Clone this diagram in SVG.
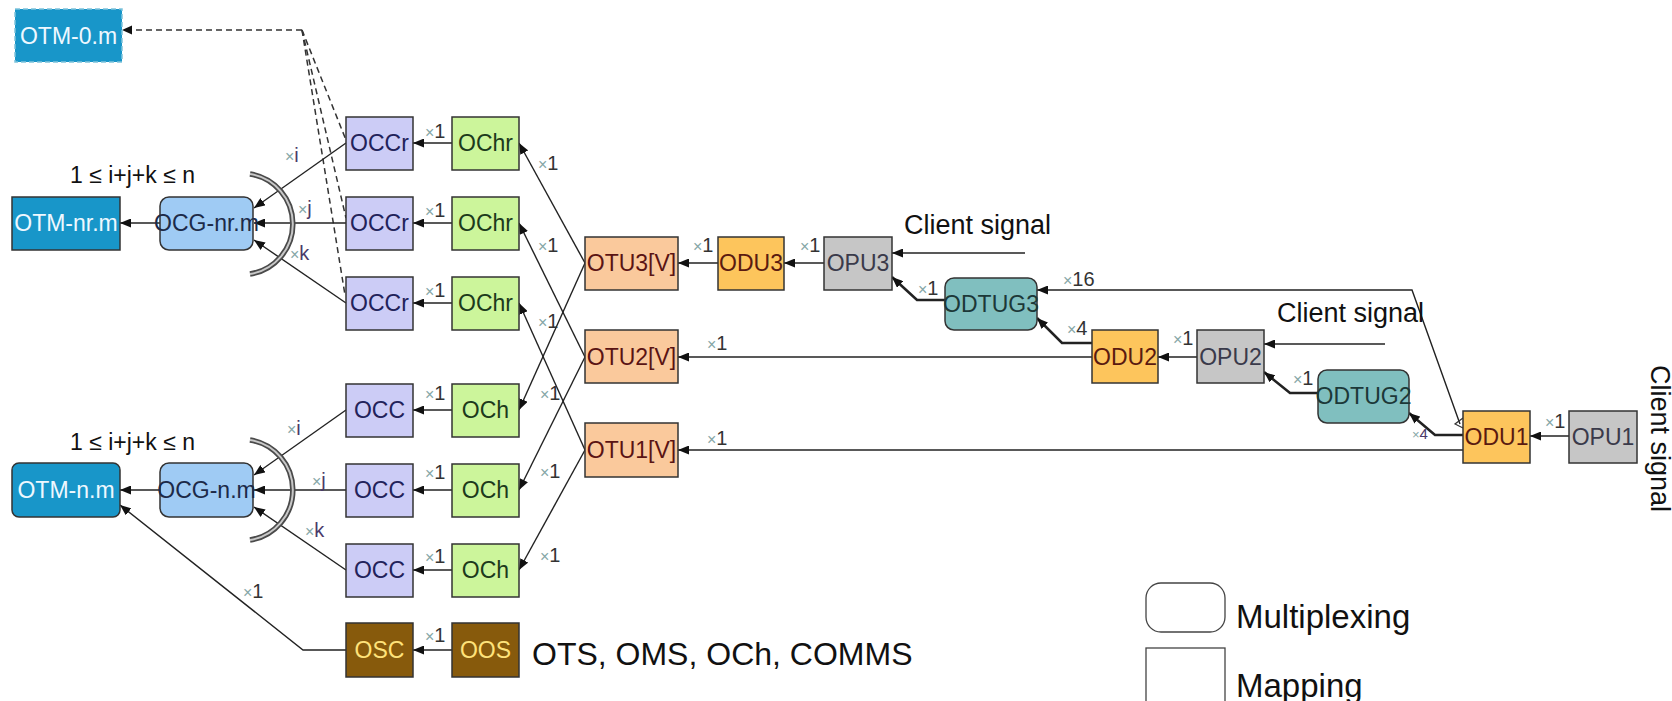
<svg xmlns="http://www.w3.org/2000/svg" width="1672" height="701" viewBox="0 0 1672 701">
  <defs>
    <marker id="ah" viewBox="0 0 10 10" refX="10" refY="5" markerWidth="11" markerHeight="9" markerUnits="userSpaceOnUse" orient="auto" preserveAspectRatio="none">
      <path d="M0,0 L10,5 L0,10 z" fill="#111"/>
    </marker>
    <style>
      .b { stroke: #333; stroke-width: 1.5; }
      .t { font-family: "Liberation Sans", Arial, sans-serif; font-size: 23px; text-anchor: middle; }
      .otm { fill: #1896c9; }
      .otm-t { fill: #eef8ff; }
      .ocg { fill: #9fcbf4; }
      .ocg-t { fill: #1c2a48; }
      .occ { fill: #ccccf6; }
      .occ-t { fill: #22225a; }
      .och { fill: #ccf59b; }
      .och-t { fill: #1c3a1c; }
      .otu { fill: #fac99c; }
      .otu-t { fill: #5a1414; }
      .odu { fill: #fdc55c; }
      .odu-t { fill: #5a1a10; }
      .opu { fill: #c6c6c6; }
      .opu-t { fill: #3a3a4a; }
      .odtug { fill: #80bfbf; }
      .odtug-t { fill: #1c3838; }
      .osc { fill: #875a0c; }
      .osc-t { fill: #ffe27a; }
      .c { fill: none; stroke: #222; stroke-width: 1.4; }
      .ca { fill: none; stroke: #222; stroke-width: 1.4; marker-end: url(#ah); }
      .ck { fill: none; stroke: #222; stroke-width: 2.6; marker-end: url(#ah); }
      .cd { fill: none; stroke: #333; stroke-width: 1.5; stroke-dasharray: 6 4; }
      .m { font-family: "Liberation Sans", Arial, sans-serif; font-size: 20px; fill: #333; }
      .mx { fill: #86a6a6; font-size: 16px; }
      .mv { fill: #4a3a6a; }
      .txt { font-family: "Liberation Sans", Arial, sans-serif; fill: #111; }
      .arc-o { fill: none; stroke: #4a4a4a; stroke-width: 5.5; }
      .arc-i { fill: none; stroke: #c8c8c8; stroke-width: 2; }
    </style>
  </defs>

  <rect width="1672" height="701" fill="#ffffff"/>

  <!-- connectors -->
  <g id="connectors">
    <!-- OTM-0.m supervisory dashed paths -->
    <path class="cd" d="M302,30 L122,30"/>
    <path d="M122,30 l10,-4.5 v9 z" fill="#111"/>
    <path class="cd" d="M302,30 L346,140"/>
    <path class="cd" d="M302,30 L346,218"/>
    <path class="cd" d="M302,30 L345,295"/>

    <!-- upper group -->
    <path class="ca" d="M160,223 L120,223"/>
    <path class="ca" d="M346,143 L254,208"/>
    <path class="ca" d="M346,223 L254,223"/>
    <path class="ca" d="M346,303 L254,240"/>
    <path class="ca" d="M452,143 L413,143"/>
    <path class="ca" d="M452,223 L413,223"/>
    <path class="ca" d="M452,303 L413,303"/>

    <!-- lower group -->
    <path class="ca" d="M160,490 L120,490"/>
    <path class="ca" d="M346,410 L254,475"/>
    <path class="ca" d="M346,490 L254,490"/>
    <path class="ca" d="M346,570 L254,507"/>
    <path class="ca" d="M452,410 L413,410"/>
    <path class="ca" d="M452,490 L413,490"/>
    <path class="ca" d="M452,570 L413,570"/>
    <path class="ca" d="M452,650 L413,650"/>
    <path class="ca" d="M346,650 L303,650 L120,505"/>

    <!-- OTU fan-out -->
    <path class="ca" d="M585,263 L519,143"/>
    <path class="ca" d="M585,357 L519,223"/>
    <path class="ca" d="M585,450 L519,303"/>
    <path class="ca" d="M585,263 L519,410"/>
    <path class="ca" d="M585,357 L519,490"/>
    <path class="ca" d="M585,450 L519,570"/>

    <!-- ODU3 / OPU3 chain -->
    <path class="ca" d="M718,263 L678,263"/>
    <path class="ca" d="M824,263 L784,263"/>
    <path class="ca" d="M1025,253 L892,253"/>
    <path class="ck" d="M945,300 L917,300 L892,277"/>

    <!-- ODU2 / OPU2 chain -->
    <path class="ca" d="M1092,357 L678,357"/>
    <path class="ck" d="M1092,343 L1062,343 L1037,318"/>
    <path class="ca" d="M1197,357 L1158,357"/>
    <path class="ca" d="M1385,344 L1264,344"/>
    <path class="ck" d="M1318,393 L1290,393 L1264,372"/>

    <!-- ODU1 / OPU1 chain -->
    <path class="ca" d="M1463,450 L678,450"/>
    <path class="ca" d="M1460,424 L1412,290 L1037,290"/>
    <path d="M1463,418 L1455,424 L1463,428" fill="none" stroke="#333" stroke-width="1.2"/>
    <path class="ck" d="M1463,435 L1435,435 L1409,413"/>
    <path class="ca" d="M1569,436 L1530,436"/>
  </g>

  <!-- multiplexing arcs -->
  <g id="arc-upper">
    <path class="arc-o" d="M250,174 A50.6,50.6 0 0 1 250,274"/>
    <path class="arc-i" d="M250,174 A50.6,50.6 0 0 1 250,274"/>
  </g>
  <g id="arc-lower">
    <path class="arc-o" d="M250,440 A50.6,50.6 0 0 1 250,540"/>
    <path class="arc-i" d="M250,440 A50.6,50.6 0 0 1 250,540"/>
  </g>

  <!-- nodes -->
  <g id="otm-0m">
    <rect x="15" y="9" width="107" height="53" class="otm" stroke="#7fc4dc" stroke-width="1.5" stroke-dasharray="5 3"/>
    <text x="68.5" y="44" class="t otm-t">OTM-0.m</text>
  </g>
  <g id="otm-nrm">
    <rect x="12" y="197" width="108" height="53" class="otm b"/>
    <text x="66" y="231" class="t otm-t">OTM-nr.m</text>
  </g>
  <g id="ocg-nrm">
    <rect x="160" y="197" width="93" height="53" rx="9" class="ocg b"/>
    <text x="206.5" y="231" class="t ocg-t">OCG-nr.m</text>
  </g>
  <g id="otm-nm">
    <rect x="12" y="463" width="108" height="54" rx="7" class="otm b"/>
    <text x="66" y="498" class="t otm-t">OTM-n.m</text>
  </g>
  <g id="ocg-nm">
    <rect x="160" y="463" width="93" height="54" rx="9" class="ocg b"/>
    <text x="206.5" y="498" class="t ocg-t">OCG-n.m</text>
  </g>

  <g id="occr-1"><rect x="346" y="117" width="67" height="53" class="occ b"/><text x="379.5" y="151" class="t occ-t">OCCr</text></g>
  <g id="occr-2"><rect x="346" y="197" width="67" height="53" class="occ b"/><text x="379.5" y="231" class="t occ-t">OCCr</text></g>
  <g id="occr-3"><rect x="346" y="277" width="67" height="53" class="occ b"/><text x="379.5" y="311" class="t occ-t">OCCr</text></g>
  <g id="ochr-1"><rect x="452" y="117" width="67" height="53" class="och b"/><text x="485.5" y="151" class="t och-t">OChr</text></g>
  <g id="ochr-2"><rect x="452" y="197" width="67" height="53" class="och b"/><text x="485.5" y="231" class="t och-t">OChr</text></g>
  <g id="ochr-3"><rect x="452" y="277" width="67" height="53" class="och b"/><text x="485.5" y="311" class="t och-t">OChr</text></g>

  <g id="occ-1"><rect x="346" y="384" width="67" height="53" class="occ b"/><text x="379.5" y="418" class="t occ-t">OCC</text></g>
  <g id="occ-2"><rect x="346" y="464" width="67" height="53" class="occ b"/><text x="379.5" y="498" class="t occ-t">OCC</text></g>
  <g id="occ-3"><rect x="346" y="544" width="67" height="53" class="occ b"/><text x="379.5" y="578" class="t occ-t">OCC</text></g>
  <g id="och-1"><rect x="452" y="384" width="67" height="53" class="och b"/><text x="485.5" y="418" class="t och-t">OCh</text></g>
  <g id="och-2"><rect x="452" y="464" width="67" height="53" class="och b"/><text x="485.5" y="498" class="t och-t">OCh</text></g>
  <g id="och-3"><rect x="452" y="544" width="67" height="53" class="och b"/><text x="485.5" y="578" class="t och-t">OCh</text></g>

  <g id="osc"><rect x="346" y="623" width="67" height="54" class="osc b"/><text x="379.5" y="658" class="t osc-t">OSC</text></g>
  <g id="oos"><rect x="452" y="623" width="67" height="54" class="osc b"/><text x="485.5" y="658" class="t osc-t">OOS</text></g>

  <g id="otu3"><rect x="585" y="237" width="93" height="53" class="otu b"/><text x="631.5" y="271" class="t otu-t">OTU3[V]</text></g>
  <g id="otu2"><rect x="585" y="330" width="93" height="53" class="otu b"/><text x="631.5" y="365" class="t otu-t">OTU2[V]</text></g>
  <g id="otu1"><rect x="585" y="423" width="93" height="54" class="otu b"/><text x="631.5" y="458" class="t otu-t">OTU1[V]</text></g>

  <g id="odu3"><rect x="718" y="237" width="66" height="53" class="odu b"/><text x="751" y="271" class="t odu-t">ODU3</text></g>
  <g id="opu3"><rect x="824" y="237" width="68" height="53" class="opu b"/><text x="858" y="271" class="t opu-t">OPU3</text></g>
  <g id="odtug3"><rect x="945" y="278" width="92" height="52" rx="9" class="odtug b"/><text x="991" y="312" class="t odtug-t">ODTUG3</text></g>

  <g id="odu2"><rect x="1092" y="330" width="66" height="53" class="odu b"/><text x="1125" y="365" class="t odu-t">ODU2</text></g>
  <g id="opu2"><rect x="1197" y="330" width="67" height="53" class="opu b"/><text x="1230.5" y="365" class="t opu-t">OPU2</text></g>
  <g id="odtug2"><rect x="1318" y="370" width="91" height="53" rx="9" class="odtug b"/><text x="1363.5" y="404" class="t odtug-t">ODTUG2</text></g>

  <g id="odu1"><rect x="1463" y="411" width="67" height="52" class="odu b"/><text x="1496.5" y="445" class="t odu-t">ODU1</text></g>
  <g id="opu1"><rect x="1569" y="411" width="68" height="52" class="opu b"/><text x="1603" y="445" class="t opu-t">OPU1</text></g>

  <!-- multiplicity labels -->
  <g id="multiplicities">
    <text x="425" y="138" class="m"><tspan class="mx">×</tspan>1</text>
    <text x="425" y="217" class="m"><tspan class="mx">×</tspan>1</text>
    <text x="425" y="297" class="m"><tspan class="mx">×</tspan>1</text>
    <text x="425" y="400" class="m"><tspan class="mx">×</tspan>1</text>
    <text x="425" y="479" class="m"><tspan class="mx">×</tspan>1</text>
    <text x="425" y="563" class="m"><tspan class="mx">×</tspan>1</text>
    <text x="425" y="642" class="m"><tspan class="mx">×</tspan>1</text>

    <text x="538" y="170" class="m"><tspan class="mx">×</tspan>1</text>
    <text x="538" y="252" class="m"><tspan class="mx">×</tspan>1</text>
    <text x="538" y="328" class="m"><tspan class="mx">×</tspan>1</text>
    <text x="540" y="400" class="m"><tspan class="mx">×</tspan>1</text>
    <text x="540" y="478" class="m"><tspan class="mx">×</tspan>1</text>
    <text x="540" y="562" class="m"><tspan class="mx">×</tspan>1</text>

    <text x="285" y="162" class="m"><tspan class="mx">×</tspan><tspan class="mv">i</tspan></text>
    <text x="298" y="215" class="m"><tspan class="mx">×</tspan><tspan class="mv">j</tspan></text>
    <text x="290" y="260" class="m"><tspan class="mx">×</tspan><tspan class="mv">k</tspan></text>
    <text x="287" y="435" class="m"><tspan class="mx">×</tspan><tspan class="mv">i</tspan></text>
    <text x="312" y="487" class="m"><tspan class="mx">×</tspan><tspan class="mv">j</tspan></text>
    <text x="305" y="537" class="m"><tspan class="mx">×</tspan><tspan class="mv">k</tspan></text>

    <text x="243" y="598" class="m"><tspan class="mx">×</tspan>1</text>

    <text x="693" y="252" class="m"><tspan class="mx">×</tspan>1</text>
    <text x="800" y="252" class="m"><tspan class="mx">×</tspan>1</text>
    <text x="918" y="295" class="m"><tspan class="mx">×</tspan>1</text>
    <text x="707" y="350" class="m"><tspan class="mx">×</tspan>1</text>
    <text x="707" y="445" class="m"><tspan class="mx">×</tspan>1</text>
    <text x="1063" y="286" class="m"><tspan class="mx">×</tspan>16</text>
    <text x="1067" y="335" class="m"><tspan class="mx">×</tspan>4</text>
    <text x="1173" y="345" class="m"><tspan class="mx">×</tspan>1</text>
    <text x="1293" y="385" class="m"><tspan class="mx">×</tspan>1</text>
    <text x="1412" y="439" class="m" style="font-size:15px"><tspan class="mx" style="font-size:13px">×</tspan><tspan class="mv">4</tspan></text>
    <text x="1545" y="428" class="m"><tspan class="mx">×</tspan>1</text>
  </g>

  <!-- free texts -->
  <text x="70" y="183" class="txt" font-size="23">1 ≤ i+j+k ≤ n</text>
  <text x="70" y="450" class="txt" font-size="23">1 ≤ i+j+k ≤ n</text>
  <text x="904" y="234" class="txt" font-size="27">Client signal</text>
  <text x="1277" y="322" class="txt" font-size="27">Client signal</text>
  <text transform="translate(1651,365) rotate(90)" class="txt" font-size="27">Client signal</text>
  <text x="532" y="665" class="txt" font-size="32">OTS, OMS, OCh, COMMS</text>

  <!-- legend -->
  <g id="legend">
    <rect x="1146" y="583" width="79" height="49" rx="15" fill="#fff" stroke="#444" stroke-width="1.3"/>
    <text x="1236" y="628" class="txt" font-size="33">Multiplexing</text>
    <rect x="1146" y="648" width="79" height="60" fill="#fff" stroke="#444" stroke-width="1.3"/>
    <text x="1236" y="697" class="txt" font-size="33">Mapping</text>
  </g>
</svg>
